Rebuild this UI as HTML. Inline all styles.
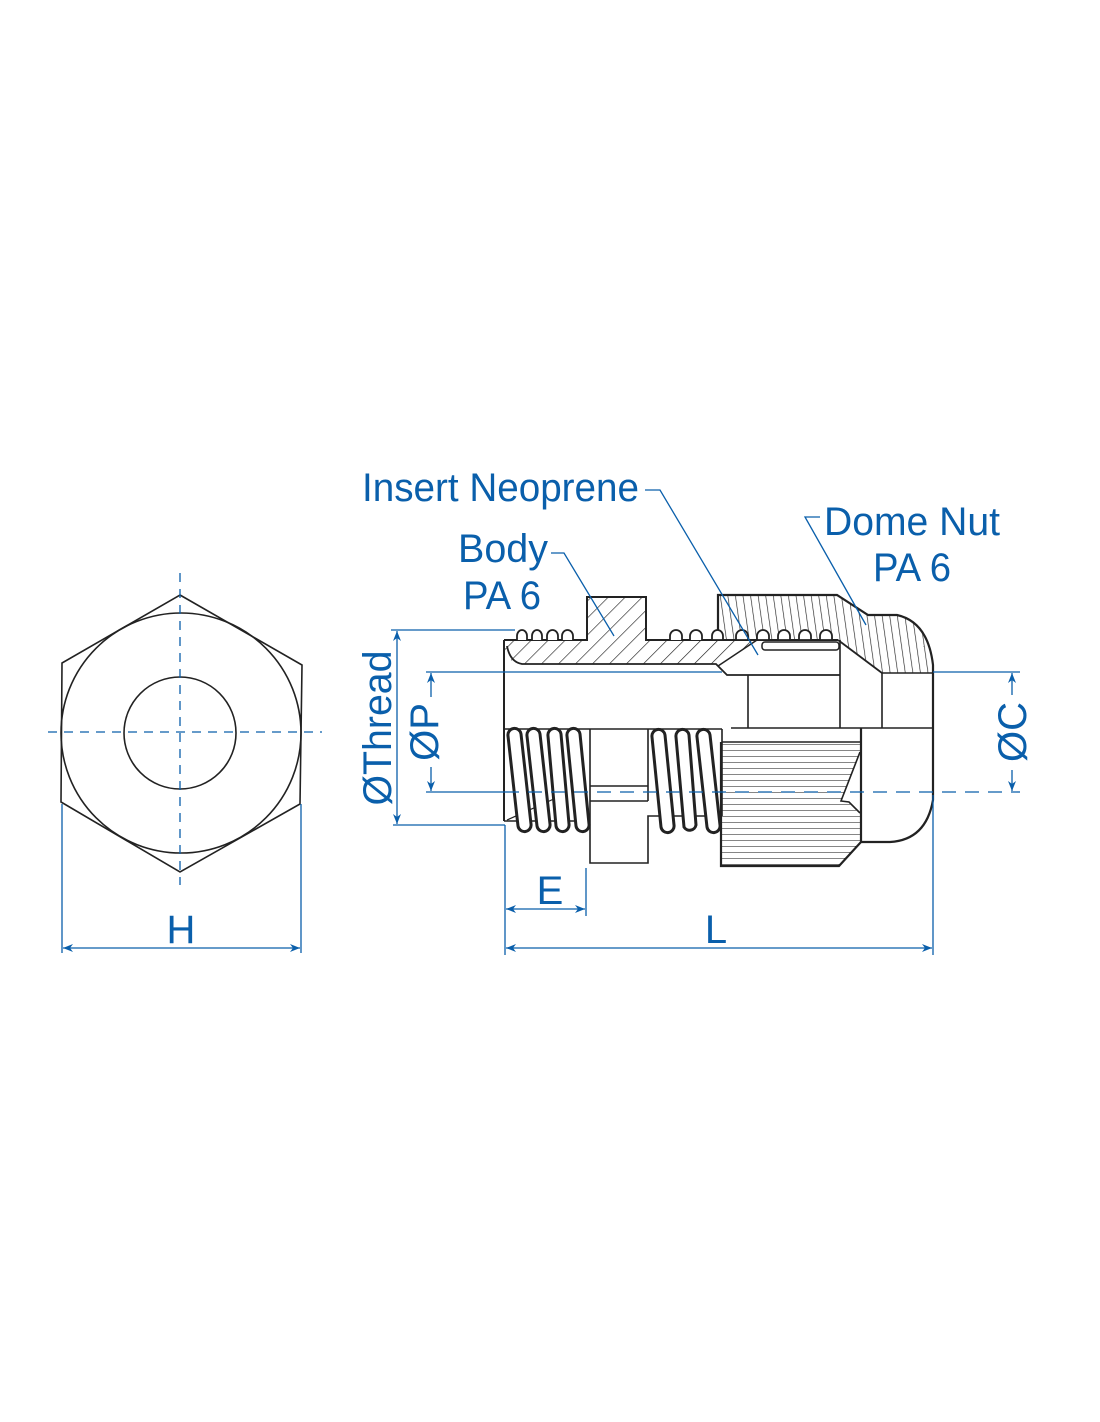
<!DOCTYPE html>
<html><head><meta charset="utf-8"><style>
html,body{margin:0;padding:0;background:#fff}
svg{display:block}
text{font-family:"Liberation Sans",sans-serif;fill:#0a5fab}
</style></head><body>
<svg width="1100" height="1422" viewBox="0 0 1100 1422" xmlns="http://www.w3.org/2000/svg">
<defs>
<pattern id="h45" patternUnits="userSpaceOnUse" width="12" height="12" patternTransform="rotate(45)">
<line x1="0" y1="0" x2="0" y2="12" stroke="#222" stroke-width="1.3"/></pattern>
<pattern id="hv" patternUnits="userSpaceOnUse" width="7.5" height="10" patternTransform="rotate(-8)">
<line x1="0" y1="0" x2="0" y2="10" stroke="#222" stroke-width="1.3"/></pattern>
<pattern id="hh" patternUnits="userSpaceOnUse" width="10" height="6">
<line x1="0" y1="0" x2="10" y2="0" stroke="#222" stroke-width="1.1"/></pattern>
<marker id="ar" viewBox="0 0 10 10" refX="10" refY="5" markerWidth="10" markerHeight="10" orient="auto-start-reverse" markerUnits="userSpaceOnUse">
<path d="M0,1 L10,5 L0,9 L3,5 Z" fill="#0a5fab"/></marker>
</defs>

<!-- HEX VIEW -->
<g fill="none" stroke="#222" stroke-width="1.6">
<polygon points="180,595 302,665 300,804 180,872 61,802 62,663"/>
<circle cx="181" cy="733" r="120"/>
<circle cx="180" cy="733" r="56"/>
</g>
<g stroke="#0a5fab" stroke-width="1.3" fill="none">
<line x1="48" y1="732" x2="322" y2="732" stroke-dasharray="9,7"/>
<line x1="180" y1="573" x2="180" y2="885" stroke-dasharray="9,7"/>
<line x1="62" y1="804" x2="62" y2="953"/>
<line x1="301" y1="804" x2="301" y2="953"/>
<line x1="63" y1="948" x2="300" y2="948" marker-start="url(#ar)" marker-end="url(#ar)"/>
</g>
<text x="181" y="943" font-size="40" text-anchor="middle">H</text>

<!-- BODY upper hatched -->
<path d="M504,640 L587,640 L587,597 L646,597 L646,640 L757,640 L720,664 L518,664 Q506,660 504,648 Z" fill="url(#h45)" stroke="none"/>
<path d="M504,640 L587,640 L587,597 L646,597 L646,640 L838,640" fill="none" stroke="#222" stroke-width="2"/>
<path d="M507,646 Q510,662 522,664 L716,664 L727,675 L840,675" fill="none" stroke="#222" stroke-width="1.8"/>
<line x1="757" y1="640" x2="718" y2="666" stroke="#222" stroke-width="1.5"/>
<!-- upper bumps -->
<g fill="#fff" stroke="#222" stroke-width="1.8">
<path d="M517,640 V636 A5,6 0 0 1 527,636 V640"/>
<path d="M532,640 V636 A5,6 0 0 1 542,636 V640"/>
<path d="M547,640 V636 A5.5,6 0 0 1 558,636 V640"/>
<path d="M562,640 V636 A5.5,6 0 0 1 573,636 V640"/>
<path d="M670,640 V636 A6,6 0 0 1 682,636 V640"/>
<path d="M690,640 V636 A6,6 0 0 1 702,636 V640"/>
</g>

<!-- NUT upper hatched -->
<path d="M718,640 L718,595 L837,595 L868,615 L897,615 Q928,622 933,665 L933,673 L882,673 L838,640 Z" fill="url(#hv)" stroke="none"/>
<path d="M718,640 L718,595 L837,595 L868,615 L897,615 Q928,622 933,665 L933,800 Q926,840 890,842 L860,842" fill="none" stroke="#222" stroke-width="2.2"/>
<line x1="838" y1="640" x2="882" y2="673" stroke="#222" stroke-width="1.8"/>
<line x1="882" y1="673" x2="933" y2="673" stroke="#222" stroke-width="1.5"/>
<g fill="#fff" stroke="#222" stroke-width="1.8">
<path d="M712,640 V636 A5.5,6 0 0 1 723,636 V640 Z"/>
<path d="M736,640 V636 A6,6 0 0 1 748,636 V640 Z"/>
<path d="M757,640 V636 A6,6 0 0 1 769,636 V640 Z"/>
<path d="M778,640 V636 A6,6 0 0 1 790,636 V640 Z"/>
<path d="M799,640 V636 A6,6 0 0 1 811,636 V640 Z"/>
<path d="M820,640 V636 A6,6 0 0 1 832,636 V640 Z"/>
</g>
<rect x="762" y="642" width="77" height="8" rx="3" fill="#fff" stroke="#222" stroke-width="1.5"/>
<!-- inner verticals -->
<g stroke="#222" stroke-width="1.6">
<line x1="748" y1="675" x2="748" y2="728"/>
<line x1="840" y1="640" x2="840" y2="728"/>
<line x1="882" y1="673" x2="882" y2="728"/>
<line x1="504" y1="640" x2="504" y2="821" stroke-width="2"/>
<line x1="504" y1="729" x2="722" y2="729"/>
<line x1="731" y1="728" x2="933" y2="728"/>
<line x1="504" y1="821" x2="590" y2="821"/>
<line x1="507" y1="820" x2="556" y2="798" stroke-width="1.2"/>
</g>
<!-- middle section -->
<g fill="none" stroke="#222" stroke-width="1.6">
<path d="M590,729 L590,863 L648,863 L648,816 L722,816"/>
<line x1="648" y1="729" x2="648" y2="801"/>
<line x1="590" y1="786" x2="648" y2="786"/>
<line x1="590" y1="801" x2="648" y2="801"/>
<line x1="722" y1="729" x2="722" y2="816"/>
</g>
<!-- coils -->
<g fill="#fff" stroke="#222" stroke-width="3">
<path d="M508,736 A6.5,6.5 0 0 1 521,734 L531,824 A6.5,6.5 0 0 1 518,826 Z"/>
<path d="M527,736 A6.5,6.5 0 0 1 540,734 L550,824 A6.5,6.5 0 0 1 537,826 Z"/>
<path d="M548,736 A6.5,6.5 0 0 1 561,734 L569,824 A6.5,6.5 0 0 1 556,826 Z"/>
<path d="M567,736 A6.5,6.5 0 0 1 580,734 L589,824 A6.5,6.5 0 0 1 576,826 Z"/>
<path d="M652,737 A6.5,6.5 0 0 1 665,735 L674,825 A6.5,6.5 0 0 1 661,827 Z"/>
<path d="M676,737 A6.5,6.5 0 0 1 689,735 L696,825 A6.5,6.5 0 0 1 684,827 Z"/>
<path d="M697,737 A6.5,6.5 0 0 1 710,735 L720,825 A6.5,6.5 0 0 1 707,827 Z"/>
</g>
<!-- nut lower -->
<path d="M722,742 L860,742 L860,752 L841,801 L849,802 L860,813 L860,842 L839,866 L722,866 Z" fill="url(#hh)" stroke="none"/>
<path d="M721,742 L721,866 L839,866 L861,842 L861,728" fill="none" stroke="#222" stroke-width="2.2"/>
<path d="M722,742 L860,742 M860,752 L841,801 L849,802 L860,813" fill="none" stroke="#222" stroke-width="1.6"/>

<!-- dimension lines -->
<g stroke="#0a5fab" stroke-width="1.3" fill="none">
<line x1="391" y1="630" x2="515" y2="630"/>
<line x1="393" y1="825" x2="505" y2="825"/>
<line x1="397" y1="631" x2="397" y2="824" marker-start="url(#ar)" marker-end="url(#ar)"/>
<line x1="426" y1="672" x2="722" y2="672"/>
<line x1="426" y1="792" x2="505" y2="792"/>
<line x1="505" y1="792" x2="1020" y2="792" stroke-dasharray="14,9"/>
<line x1="431" y1="673" x2="431" y2="697" marker-start="url(#ar)"/>
<line x1="431" y1="767" x2="431" y2="791" marker-end="url(#ar)"/>
<line x1="933" y1="672" x2="1020" y2="672"/>
<line x1="1012" y1="673" x2="1012" y2="695" marker-start="url(#ar)"/>
<line x1="1012" y1="770" x2="1012" y2="791" marker-end="url(#ar)"/>
<line x1="505" y1="825" x2="505" y2="955"/>
<line x1="586" y1="868" x2="586" y2="916"/>
<line x1="933" y1="795" x2="933" y2="955"/>
<line x1="506" y1="909" x2="585" y2="909" marker-start="url(#ar)" marker-end="url(#ar)"/>
<line x1="506" y1="948" x2="932" y2="948" marker-start="url(#ar)" marker-end="url(#ar)"/>
<!-- leaders -->
<polyline points="645,490 660,490 758,655"/>
<polyline points="551,553 564,553 614,636"/>
<polyline points="820,517 805,517 866,625"/>
</g>

<text x="362" y="501" font-size="40" textLength="277" lengthAdjust="spacingAndGlyphs">Insert Neoprene</text>
<text x="458" y="562" font-size="40" textLength="90" lengthAdjust="spacingAndGlyphs">Body</text>
<text x="463" y="609" font-size="40" textLength="78" lengthAdjust="spacingAndGlyphs">PA 6</text>
<text x="824" y="535" font-size="40" textLength="176" lengthAdjust="spacingAndGlyphs">Dome Nut</text>
<text x="873" y="581" font-size="40" textLength="78" lengthAdjust="spacingAndGlyphs">PA 6</text>
<text x="550" y="904" font-size="40" text-anchor="middle">E</text>
<text x="716" y="943" font-size="40" text-anchor="middle">L</text>
<text transform="translate(391,728) rotate(-90)" font-size="40" text-anchor="middle" textLength="155" lengthAdjust="spacingAndGlyphs">ØThread</text>
<text transform="translate(438,732) rotate(-90)" font-size="40" text-anchor="middle">ØP</text>
<text transform="translate(1026,732) rotate(-90)" font-size="40" text-anchor="middle">ØC</text>
</svg>
</body></html>
